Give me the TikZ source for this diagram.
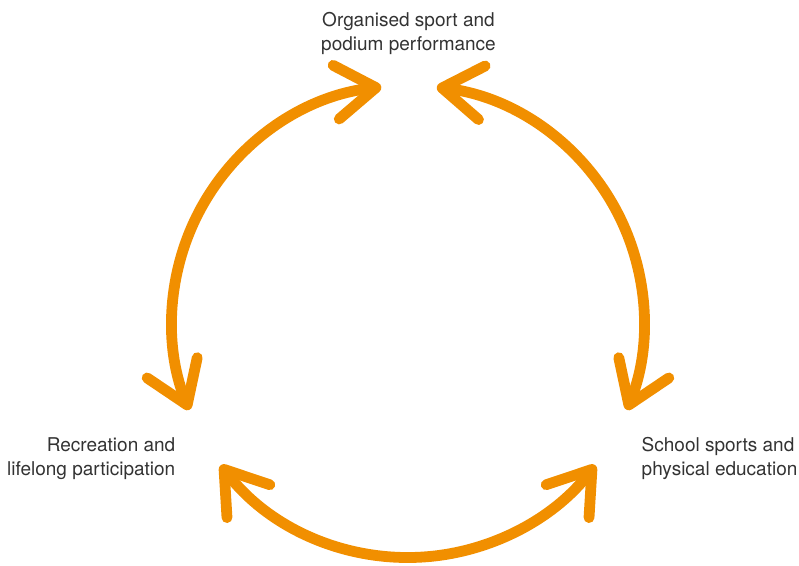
\documentclass[tikz,border=0pt]{standalone}
\usepackage{fontspec}
\setmainfont{TeX Gyre Heros}
\usetikzlibrary{arrows.meta, positioning}
\definecolor{cycleorange}{HTML}{F18F00}
\definecolor{labelgrey}{HTML}{333333}

\begin{document}
\begin{tikzpicture}[x=1pt,y=1pt,
  >={Straight Barb[length=40pt,width=54pt,round]},
  cyclearc/.style={line width=10.8pt, cycleorange, line cap=round, <->},
  stage/.style={font=\fontsize{19}{23.5}\selectfont, text=labelgrey, inner sep=0pt}]
\useasboundingbox (0,0) rectangle (799,565);
% Centre of the cycle
\coordinate (c) at (408,243.5);
% Stages
\node[stage, align=center] (organised) at (408.5,531.5) {Organised sport and\\podium performance};
\node[stage, align=right, anchor=east] (recreation) at (175.5,106.5) {Recreation and\\lifelong participation};
\node[stage, align=left, anchor=west] (school) at (641.5,106.5) {School sports and\\physical education};
% Arcs between the stages
\draw[cyclearc] ([shift={(96.5:236)}]c) arc[start angle=96.5, end angle=202, radius=236];
\draw[cyclearc] ([shift={(83:236)}]c) arc[start angle=83, end angle=-22, radius=236];
\draw[cyclearc] ([shift={(217.5:236)}]c) arc[start angle=217.5, end angle=322.5, radius=236];
\end{tikzpicture}
\end{document}
